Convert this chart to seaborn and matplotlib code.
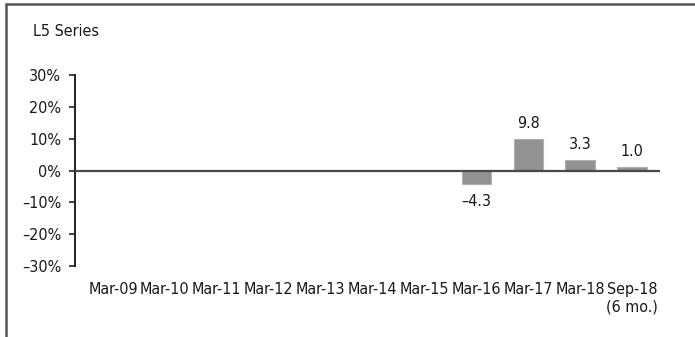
import pandas as pd
import seaborn as sns
import matplotlib.pyplot as plt
from matplotlib.lines import Line2D

# data
periods = ['Mar-09', 'Mar-10', 'Mar-11', 'Mar-12', 'Mar-13', 'Mar-14',
           'Mar-15', 'Mar-16', 'Mar-17', 'Mar-18', 'Sep-18\n(6 mo.)']
returns = [None, None, None, None, None, None, None, -4.3, 9.8, 3.3, 1.0]
yticks = [-30, -20, -10, 0, 10, 20, 30]
title = 'L5 Series'

df = pd.DataFrame({'period': periods, 'ret': returns})

sns.set_style('white')
plt.rcParams['font.family'] = ['DejaVu Sans']
plt.rcParams['font.stretch'] = 'condensed'

fs = 11.5

fig = plt.figure(figsize=(6.95, 3.37), dpi=100)
ax = fig.add_axes([0.108, 0.211, 0.842, 0.566])

sns.barplot(data=df, x='period', y='ret', color='#929292', width=0.57,
            saturation=1, edgecolor='#b0b0b0', linewidth=0.8, ax=ax)

ax.axhline(0, color='#4a4a4a', linewidth=1.6, zorder=3)

for i, v in enumerate(returns):
    if v is None:
        continue
    txt = f'{v:.1f}'.replace('-', '\u2013')
    if v >= 0:
        ax.annotate(txt, (i, v), xytext=(0, 6), textcoords='offset points',
                    ha='center', va='bottom', fontsize=fs, color='#1a1a1a')
    else:
        ax.annotate(txt, (i, v), xytext=(0, -7), textcoords='offset points',
                    ha='center', va='top', fontsize=fs, color='#1a1a1a')

ax.set_ylim(-30, 30)
ax.set_xlim(-0.73, 10.54)
ax.set_yticks(yticks)
ax.set_yticklabels([f'{t}%'.replace('-', '\u2013') for t in yticks])
ax.set_xlabel('')
ax.set_ylabel('')

for s in ['top', 'right', 'bottom']:
    ax.spines[s].set_visible(False)
ax.spines['left'].set_color('#222222')
ax.spines['left'].set_linewidth(1.4)

ax.tick_params(axis='y', which='both', left=True, length=4, width=1.2,
               color='#222222', pad=6, labelsize=fs, labelcolor='#1a1a1a')
ax.tick_params(axis='x', bottom=False, pad=8, labelsize=fs, labelcolor='#1a1a1a')

fig.text(33 / 695, 1 - 32 / 337, title, fontsize=fs, color='#1a1a1a',
         ha='left', va='center')

# outer frame lines (top and left)
fig.add_artist(Line2D([6 / 695, 1], [1 - 4 / 337, 1 - 4 / 337],
                      transform=fig.transFigure, color='#555555', linewidth=1.8))
fig.add_artist(Line2D([6 / 695, 6 / 695], [0, 1 - 4 / 337],
                      transform=fig.transFigure, color='#555555', linewidth=1.8))

fig.savefig('out.png', dpi=100)
